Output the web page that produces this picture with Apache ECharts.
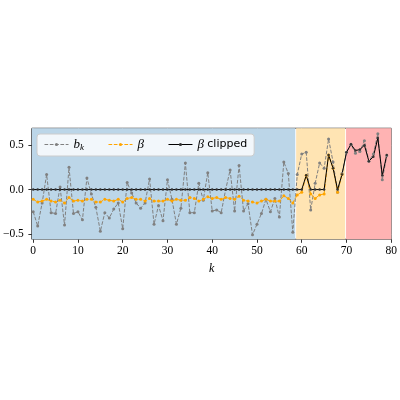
<!DOCTYPE html>
<html lang="en">
<head>
    <meta charset="UTF-8">
    <title>b_k and beta</title>
    <script src="https://cdn.jsdelivr.net/npm/echarts@6/dist/echarts.min.js"></script>
    <style>
        html, body { margin: 0; padding: 0; background: #fff; }
    </style>
</head>
<body>
    <div id="main" style="width: 400px;height:400px;"></div>
    <script type="text/javascript">

        // k = 0..79
        var ks = [];
        for (var i = 0; i < 80; i++) ks.push(i);

        // b_k (grey dashed)
        var bk = [
            -0.25, -0.41, -0.15, 0.17, -0.26, -0.27, 0.03, -0.40, 0.25, -0.27,
            -0.25, -0.34, 0.13, -0.05, -0.20, -0.47, -0.26, -0.32, -0.22, -0.15,
            -0.44, 0.08, -0.04, -0.15, -0.21, -0.15, 0.12, -0.39, -0.18, -0.35,
            0.11, -0.11, -0.39, -0.21, 0.30, -0.26, -0.26, 0.07, -0.12, 0.19,
            -0.24, -0.23, -0.26, 0.00, 0.22, -0.24, 0.27, -0.24, -0.16, -0.51,
            -0.39, -0.27, -0.11, -0.25, -0.10, -0.31, 0.31, 0.18, -0.48, 0.17,
            0.40, 0.42, -0.23, 0.07, 0.30, 0.24, 0.57, 0.31, -0.03, 0.18,
            0.42, 0.51, 0.41, 0.43, 0.55, 0.32, 0.40, 0.63, 0.11, 0.38
        ];

        // beta (orange dashed)
        var beta = [
            -0.11, -0.14, -0.13, -0.11, -0.13, -0.14, -0.12, -0.15, -0.09, -0.13,
            -0.12, -0.13, -0.11, -0.11, -0.14, -0.14, -0.11, -0.12, -0.13, -0.11,
            -0.14, -0.10, -0.09, -0.11, -0.11, -0.13, -0.10, -0.13, -0.13, -0.13,
            -0.11, -0.13, -0.11, -0.12, -0.12, -0.09, -0.10, -0.13, -0.11, -0.08,
            -0.10, -0.09, -0.11, -0.09, -0.10, -0.11, -0.075, -0.12, -0.13, -0.14,
            -0.15, -0.13, -0.11, -0.13, -0.13, -0.13, -0.07, -0.10, -0.15, -0.06,
            -0.03, 0.16, -0.05, -0.10, -0.06, -0.05, 0.39, 0.24, -0.03, 0.17,
            null, null, null, null, null, null, null, null, null, null
        ];

        // beta clipped (black solid)
        var betaClip = [
            0, 0, 0, 0, 0, 0, 0, 0, 0, 0,
            0, 0, 0, 0, 0, 0, 0, 0, 0, 0,
            0, 0, 0, 0, 0, 0, 0, 0, 0, 0,
            0, 0, 0, 0, 0, 0, 0, 0, 0, 0,
            0, 0, 0, 0, 0, 0, 0, 0, 0, 0,
            0, 0, 0, 0, 0, 0, 0, 0, 0, 0,
            0, 0.16, 0, 0, 0, 0, 0.39, 0.24, 0, 0.17,
            0.42, 0.51, 0.44, 0.45, 0.50, 0.32, 0.37, 0.58, 0.16, 0.39
        ];

        // shaded regions
        var spanStart = [-0.3, 58.75, 69.9];
        var spanEnd = [58.55, 69.7, 80];
        var spanColors = ['#bcd6e8', '#ffe4b3', '#ffb3b3'];

        var xTicks = [0, 10, 20, 30, 40, 50, 60, 70, 80];
        var yTicks = [-0.5, 0.0, 0.5];

        function pairs(ys) {
            var out = [];
            for (var i = 0; i < ks.length; i++) out.push([ks[i], ys[i]]);
            return out;
        }

        var serif = 'Liberation Serif';
        var myChart = echarts.init(document.getElementById('main'));

        var areas = [];
        for (var j = 0; j < spanStart.length; j++) {
            areas.push([{xAxis: spanStart[j], itemStyle: {color: spanColors[j]}}, {xAxis: spanEnd[j]}]);
        }

        var option = {
            animation: false,
            grid: {
                left: 31.7, top: 128.3, width: 361.6, height: 111,
                show: true, borderColor: '#000', borderWidth: 1,
                backgroundColor: 'transparent'
            },
            legend: {
                left: 37, top: 134,
                padding: [4, 7, 4, 7],
                itemWidth: 24, itemHeight: 4, itemGap: 24,
                backgroundColor: 'rgba(255,255,255,0.8)',
                borderColor: '#cccccc', borderWidth: 1, borderRadius: 3,
                lineStyle: {width: 1},
                data: ['b_k', 'beta', 'beta_clip'],
                formatter: function (name) {
                    if (name === 'b_k') return '{m|b}{s|k}';
                    if (name === 'beta') return '{m|β}';
                    return '{m|β} {t|clipped}';
                },
                textStyle: {
                    color: '#000',
                    rich: {
                        m: {fontFamily: serif, fontStyle: 'italic', fontSize: 13, color: '#000'},
                        s: {fontFamily: serif, fontStyle: 'italic', fontSize: 9, color: '#000', padding: [6, 0, 0, 0]},
                        t: {fontFamily: 'DejaVu Sans', fontSize: 11, color: '#000'}
                    }
                }
            },
            xAxis: [{
                type: 'value', min: -0.3, max: 80,
                minInterval: 10, maxInterval: 10,
                name: 'k', nameLocation: 'middle', nameGap: 24,
                nameTextStyle: {fontFamily: serif, fontStyle: 'italic', fontSize: 12, color: '#000'},
                axisLine: {show: false, onZero: false},
                axisTick: {show: true, length: 3.5, lineStyle: {color: '#000', width: 0.8}},
                axisLabel: {
                    fontFamily: serif, fontSize: 11.5, color: '#000', margin: 6,
                    showMinLabel: false,
                    formatter: function (v) { return xTicks.indexOf(v) >= 0 ? String(v) : ''; }
                },
                splitLine: {show: true, lineStyle: {color: 'rgba(255,255,255,0.45)', width: 0.8}}
            }],
            yAxis: [{
                type: 'value', min: -0.56, max: 0.69,
                minInterval: 0.5, maxInterval: 0.5,
                axisLine: {show: false, onZero: false},
                axisTick: {show: true, length: 3.5, lineStyle: {color: '#000', width: 0.8}},
                axisLabel: {
                    fontFamily: serif, fontSize: 11.5, color: '#000', margin: 8,
                    showMinLabel: false, showMaxLabel: false,
                    formatter: function (v) {
                        for (var t = 0; t < yTicks.length; t++) {
                            if (Math.abs(yTicks[t] - v) < 1e-6) {
                                var s = Math.abs(v).toFixed(1);
                                return v < -1e-6 ? '\u2212' + s : s;
                            }
                        }
                        return '';
                    }
                },
                splitLine: {show: true, lineStyle: {color: 'rgba(255,255,255,0.45)', width: 0.8}}
            }],
            series: [
                {
                    name: 'spans', type: 'line', data: [], z: -1, silent: true,
                    markArea: {silent: true, data: areas}
                },
                {
                    name: 'b_k', type: 'line', data: pairs(bk),
                    showSymbol: true, showAllSymbol: true,
                    symbol: 'circle', symbolSize: 3,
                    lineStyle: {color: '#808080', width: 1, type: [3.7, 1.6]},
                    itemStyle: {color: '#808080'}
                },
                {
                    name: 'beta', type: 'line', data: pairs(beta),
                    showSymbol: true, showAllSymbol: true, connectNulls: false,
                    symbol: 'circle', symbolSize: 3,
                    lineStyle: {color: '#ffa500', width: 1, type: [3.7, 1.6]},
                    itemStyle: {color: '#ffa500'}
                },
                {
                    name: 'beta_clip', type: 'line', data: pairs(betaClip),
                    showSymbol: true, showAllSymbol: true,
                    symbol: 'circle', symbolSize: 2.5,
                    lineStyle: {color: '#000', width: 1},
                    itemStyle: {color: '#333'}
                }
            ]
        };
        myChart.setOption(option);
    </script>
</body>
</html>
